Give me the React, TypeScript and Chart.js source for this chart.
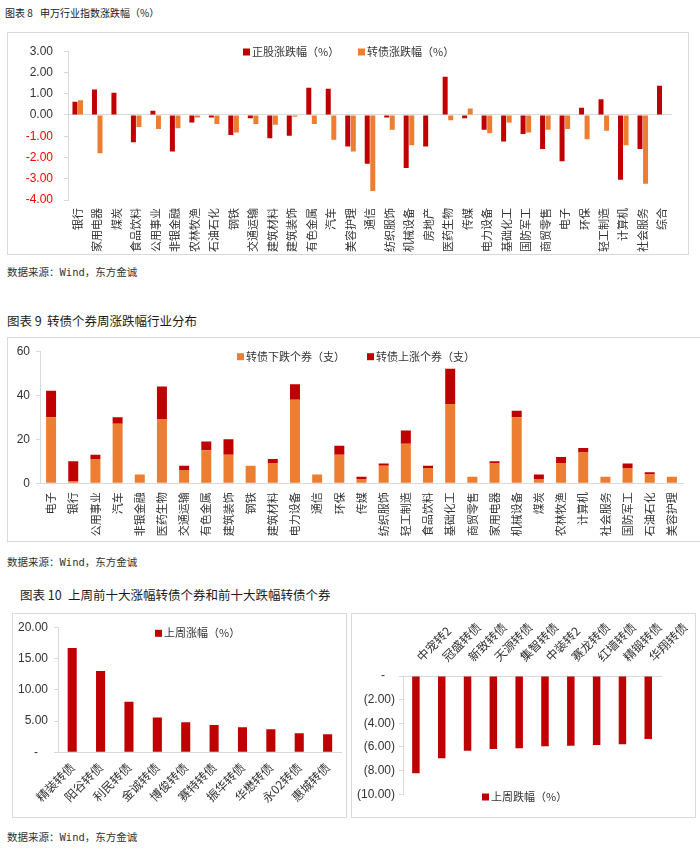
import React, { useEffect, useRef } from 'react';
import { Chart, registerables } from 'chart.js';

Chart.register(...registerables);

// ---------- data ----------
const industries1 = ['银行', '家用电器', '煤炭', '食品饮料', '公用事业', '非银金融', '农林牧渔', '石油石化', '钢铁', '交通运输', '建筑材料', '建筑装饰', '有色金属', '汽车', '美容护理', '通信', '纺织服饰', '机械设备', '房地产', '医药生物', '传媒', '电力设备', '基础化工', '国防军工', '商贸零售', '电子', '环保', '轻工制造', '计算机', '社会服务', '综合'];
const stockChange = [0.62, 1.2, 1.05, -1.28, 0.2, -1.72, -0.35, -0.12, -0.94, -0.15, -1.09, -0.98, 1.28, 1.23, -1.48, -2.3, -0.12, -2.49, -1.48, 1.8, -0.15, -0.7, -1.25, -0.9, -1.6, -2.18, 0.34, 0.74, -3.05, -1.6, 1.38];
const bondChange = [0.69, -1.8, 0, -0.57, -0.66, -0.62, -0.12, -0.43, -0.82, -0.43, -0.46, -0.08, -0.43, -1.17, -1.72, -3.58, -0.7, -1.42, 0, -0.25, 0.3, -0.86, -0.35, -0.82, -0.7, -0.66, -1.14, -0.74, -1.42, -3.23, 0];

const industries2 = ['电子', '银行', '公用事业', '汽车', '非银金融', '医药生物', '交通运输', '有色金属', '建筑装饰', '钢铁', '建筑材料', '电力设备', '通信', '环保', '传媒', '纺织服饰', '轻工制造', '食品饮料', '基础化工', '商贸零售', '家用电器', '机械设备', '煤炭', '农林牧渔', '计算机', '社会服务', '国防军工', '石油石化', '美容护理'];
const bondsDown = [30, 1, 11, 27, 4, 29, 6, 15, 13, 8, 9, 38, 4, 13, 2, 8, 18, 7, 36, 3, 9, 30, 2, 9, 14, 3, 7, 4, 3];
const bondsUp = [12, 9, 2, 3, 0, 15, 2, 4, 7, 0, 2, 7, 0, 4, 1, 1, 6, 1, 16, 0, 1, 3, 2, 3, 2, 0, 2, 1, 0];

const gainers = ['精装转债', '阳谷转债', '利民转债', '金诚转债', '博俊转债', '赛特转债', '振华转债', '华懋转债', '永02转债', '惠城转债'];
const gainValues = [16.68, 13.0, 8.1, 5.58, 4.79, 4.37, 4.0, 3.68, 3.05, 2.89];

const losers = ['中宠转2', '冠盛转债', '新致转债', '天源转债', '集智转债', '中装转2', '赛龙转债', '红墙转债', '精锻转债', '华翔转债'];
const lossValues = [-8.22, -6.96, -6.31, -6.17, -6.11, -5.94, -5.89, -5.83, -5.77, -5.32];

// ---------- styles ----------
const RED = '#C00000';
const ORANGE = '#ED7D31';
const AXIS = '#D9D9D9';
const TEXT = '#333333';
const CJK = '"Noto Sans CJK SC", sans-serif';
const NUM = '"Liberation Sans", Arial, sans-serif';

Chart.defaults.font.family = NUM;

const boxLegend = {
  id: 'boxLegend',
  afterDraw(chart: any, _args: any, opts: any) {
    const items = (opts && opts.items) || [];
    const ctx = chart.ctx;
    ctx.save();
    ctx.font = '11px ' + CJK;
    ctx.textBaseline = 'middle';
    ctx.textAlign = 'left';
    items.forEach((it: any, i: number) => {
      const ds = chart.data.datasets[i];
      if (!ds) return;
      ctx.fillStyle = ds.backgroundColor;
      ctx.fillRect(it.x, it.y - 3.5, 7, 7);
      ctx.fillStyle = TEXT;
      ctx.fillText(ds.label, it.x + 9, it.y);
    });
    ctx.restore();
  },
};

const base = {
  animation: false,
  responsive: false,
  maintainAspectRatio: false,
  events: [],
};

function config1(): any {
  return {
    type: 'bar',
    data: {
      labels: industries1,
      datasets: [
        { label: '正股涨跌幅（%）', data: stockChange, backgroundColor: RED, barPercentage: 0.9, categoryPercentage: 0.57 },
        { label: '转债涨跌幅（%）', data: bondChange, backgroundColor: ORANGE, barPercentage: 0.9, categoryPercentage: 0.57 },
      ],
    },
    options: {
      ...base,
      layout: { padding: { left: 0, right: 16, top: 15, bottom: 0 }, autoPadding: false },
      scales: {
        x: {
          grid: { display: false, drawTicks: false },
          border: { display: false },
          ticks: { autoSkip: false, minRotation: 90, maxRotation: 90, padding: 8, color: TEXT, font: { family: CJK, size: 11 } },
          afterFit: (s: any) => { s.height = 54; },
        },
        y: {
          min: -4, max: 3,
          ticks: {
            stepSize: 1,
            padding: 11,
            font: { size: 12 },
            color: (c: any) => (c.tick && c.tick.value < 0 ? '#FF0000' : TEXT),
            callback: (v: any) => Number(v).toFixed(2),
          },
          grid: {
            color: (c: any) => (c.tick && c.tick.value === 0 ? AXIS : 'rgba(0,0,0,0)'),
            tickColor: AXIS, tickLength: 4, drawTicks: true,
          },
          border: { display: true, color: AXIS },
          afterFit: (s: any) => { s.width = 60; },
        },
      },
      plugins: {
        legend: { display: false },
        tooltip: { enabled: false },
        boxLegend: { items: [{ x: 235, y: 19 }, { x: 350, y: 19 }] },
      },
    },
    plugins: [boxLegend],
  };
}

function config2(): any {
  return {
    type: 'bar',
    data: {
      labels: industries2,
      datasets: [
        { label: '转债下跌个券（支）', data: bondsDown, backgroundColor: ORANGE, barPercentage: 0.45, categoryPercentage: 1 },
        { label: '转债上涨个券（支）', data: bondsUp, backgroundColor: RED, barPercentage: 0.45, categoryPercentage: 1 },
      ],
    },
    options: {
      ...base,
      layout: { padding: { left: 0, right: 14, top: 10, bottom: 0 }, autoPadding: false },
      scales: {
        x: {
          stacked: true,
          grid: { display: false, drawTicks: false },
          border: { display: true, color: AXIS },
          ticks: { autoSkip: false, minRotation: 90, maxRotation: 90, padding: 9, color: TEXT, font: { family: CJK, size: 11 } },
          afterFit: (s: any) => { s.height = 57.7; },
        },
        y: {
          stacked: true,
          min: 0, max: 60,
          ticks: { stepSize: 20, padding: 6, color: TEXT, font: { size: 12 } },
          grid: { drawOnChartArea: false, color: AXIS, tickColor: AXIS, tickLength: 4 },
          border: { display: true, color: AXIS },
          afterFit: (s: any) => { s.width = 32; },
        },
      },
      plugins: {
        legend: { display: false },
        tooltip: { enabled: false },
        boxLegend: { items: [{ x: 229, y: 18.7 }, { x: 359, y: 18.7 }] },
      },
    },
    plugins: [boxLegend],
  };
}

function config3(): any {
  return {
    type: 'bar',
    data: {
      labels: gainers,
      datasets: [
        { label: '上周涨幅（%）', data: gainValues, backgroundColor: RED, barPercentage: 0.32, categoryPercentage: 1 },
      ],
    },
    options: {
      ...base,
      layout: { padding: { left: 0, right: 4, top: 12, bottom: 0 }, autoPadding: false },
      scales: {
        x: {
          grid: { display: false, drawTicks: false },
          border: { display: true, color: AXIS },
          ticks: { autoSkip: false, minRotation: 45, maxRotation: 45, padding: 8, color: TEXT, font: { family: CJK, size: 12 } },
          afterFit: (s: any) => { s.height = 64.7; },
        },
        y: {
          min: 0, max: 20,
          ticks: {
            stepSize: 5, padding: 6, color: TEXT, font: { size: 12 },
            callback: (v: any) => (Number(v) === 0 ? '-   ' : Number(v).toFixed(2)),
          },
          grid: { drawOnChartArea: false, color: AXIS, tickColor: AXIS, tickLength: 4 },
          border: { display: true, color: AXIS },
          afterFit: (s: any) => { s.width = 45; },
        },
      },
      plugins: {
        legend: { display: false },
        tooltip: { enabled: false },
        boxLegend: { items: [{ x: 142, y: 19.3 }] },
      },
    },
    plugins: [boxLegend],
  };
}

function config4(): any {
  return {
    type: 'bar',
    data: {
      labels: losers,
      datasets: [
        { label: '上周跌幅（%）', data: lossValues, backgroundColor: RED, barPercentage: 0.29, categoryPercentage: 1 },
      ],
    },
    options: {
      ...base,
      layout: { padding: { left: 0, right: 16, top: 0, bottom: 22.7 }, autoPadding: false },
      scales: {
        x: {
          position: 'top',
          grid: { display: false, drawTicks: false },
          border: { display: true, color: AXIS },
          ticks: { autoSkip: false, minRotation: 45, maxRotation: 45, padding: 12, labelOffset: 13, color: TEXT, font: { family: CJK, size: 12 } },
          afterFit: (s: any) => { s.height = 62; },
        },
        y: {
          min: -10, max: 0,
          ticks: {
            stepSize: 2, padding: 4, color: TEXT, font: { size: 12 },
            callback: (v: any) => (Number(v) === 0 ? '-   ' : '(' + Math.abs(Number(v)).toFixed(2) + ')'),
          },
          grid: { drawOnChartArea: false, color: AXIS, tickColor: AXIS, tickLength: 4 },
          border: { display: true, color: AXIS },
          afterFit: (s: any) => { s.width = 51; },
        },
      },
      plugins: {
        legend: { display: false },
        tooltip: { enabled: false },
        boxLegend: { items: [{ x: 130, y: 183 }] },
      },
    },
    plugins: [boxLegend],
  };
}

function ChartCanvas(props: { left: number; top: number; width: number; height: number; make: () => any }) {
  const ref = useRef<HTMLCanvasElement>(null);
  useEffect(() => {
    if (!ref.current) return;
    const chart = new Chart(ref.current, props.make());
    return () => chart.destroy();
  }, []);
  return (
    <canvas
      ref={ref}
      width={props.width}
      height={props.height}
      style={{ position: 'absolute', left: props.left, top: props.top, width: props.width, height: props.height, display: 'block' }}
    />
  );
}

function Box(props: { left: number; top: number; width: number; height: number }) {
  return (
    <div
      style={{
        position: 'absolute', left: props.left, top: props.top, width: props.width, height: props.height,
        border: '1px solid ' + AXIS, boxSizing: 'border-box',
      }}
    />
  );
}

function Txt(props: { left: number; cy: number; size: number; children: any; family?: string; color?: string }) {
  const h = 20;
  return (
    <div
      style={{
        position: 'absolute', left: props.left, top: props.cy - h / 2, height: h, lineHeight: h + 'px',
        fontSize: props.size, fontFamily: props.family || CJK, color: props.color || '#1a1a1a', whiteSpace: 'pre',
      }}
    >
      {props.children}
    </div>
  );
}

const SRC_FONT = '"DejaVu Sans Mono", "Noto Sans CJK SC", monospace';

export default function App() {
  return (
    <div style={{ position: 'absolute', left: 0, top: 0, width: 700, height: 853, background: '#fff', overflow: 'hidden' }}>
      <Txt left={5} cy={13} size={10}>图表 8</Txt>
      <Txt left={40} cy={13} size={10}>申万行业指数涨跌幅（%）</Txt>
      <Box left={7} top={32} width={682} height={223} />
      <ChartCanvas left={8} top={33} width={680} height={221} make={config1} />
      <Txt left={7} cy={272} size={10.5} family={SRC_FONT} color="#333">数据来源：Wind，东方金诚</Txt>

      <Txt left={7} cy={320.5} size={12.5}>图表 9</Txt>
      <Txt left={47} cy={320.5} size={12.5}>转债个券周涨跌幅行业分布</Txt>
      <Box left={7} top={337} width={695} height={205} />
      <ChartCanvas left={8} top={338} width={689} height={203} make={config2} />
      <Txt left={7} cy={561.5} size={10.5} family={SRC_FONT} color="#333">数据来源：Wind，东方金诚</Txt>

      <Txt left={20} cy={595} size={12.5}>图表 10</Txt>
      <Txt left={68} cy={595} size={12.5}>上周前十大涨幅转债个券和前十大跌幅转债个券</Txt>
      <Box left={12} top={613} width={335} height={205} />
      <ChartCanvas left={13} top={614} width={333} height={203} make={config3} />
      <Box left={351} top={613} width={345} height={205} />
      <ChartCanvas left={352} top={614} width={343} height={203} make={config4} />
      <Txt left={7} cy={837} size={10.5} family={SRC_FONT} color="#333">数据来源：Wind，东方金诚</Txt>
    </div>
  );
}
